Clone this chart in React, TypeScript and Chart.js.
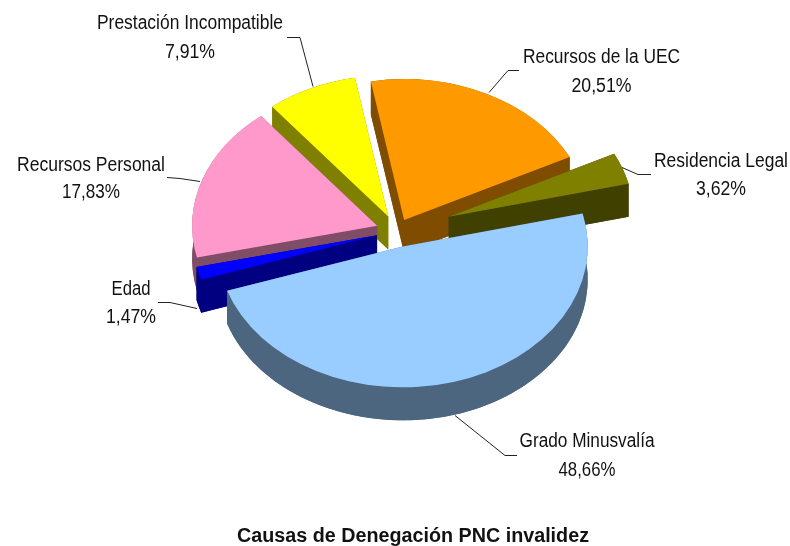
import React, { useEffect, useRef } from "react";
import { Chart, registerables } from "chart.js";

Chart.register(...registerables);

const categories = ["Grado Minusvalía", "Edad", "Recursos Personal", "Prestación Incompatible", "Recursos de la UEC", "Residencia Legal"];
const values = [48.66, 1.47, 17.83, 7.91, 20.51, 3.62];
const topColors = ["#99CCFF", "#0000FF", "#FF99CC", "#FFFF00", "#FF9900", "#808000"];
const sideColors = ["#4D6680", "#000080", "#804D66", "#808000", "#804D00", "#404000"];
const explode = [21, 21, 21, 21, 16, 55];
const paintOrder = [4, 3, 5, 2, 1, 0];
const chartTitle = "Causas de Denegación PNC invalidez";

const CX = 397, CY = 231, TILT = 0.762, DEPTH = 33, RADIUS = 185;

// label centre x, baselines, text widths, leader polyline
const labelLayout = [
  { x: 587, y: 447, w: 135, py: 476, pw: 57, leader: [[455, 415], [505, 455], [517, 455]] },
  { x: 131, y: 295, w: 39, py: 323, pw: 50, leader: [[197, 308], [170, 302], [158, 302]] },
  { x: 91, y: 171, w: 148, py: 198, pw: 58, leader: [[200, 181], [180, 178], [167, 177]] },
  { x: 190, y: 29, w: 186, py: 58, pw: 50, leader: [[313, 86], [300, 37], [287, 37]] },
  { x: 601.5, y: 63, w: 157, py: 92, pw: 60, leader: [[489, 92], [508, 70], [519, 70]] },
  { x: 721, y: 167, w: 134, py: 195, pw: 50, leader: [[622, 167], [638, 174], [651, 174]] },
];

const pie3d = {
  id: "pie3d",
  beforeDatasetsDraw(chart: any) {
    const ctx = chart.ctx;
    const arcs = chart.getDatasetMeta(0).data;
    const ax = arcs[0].x, ay = arcs[0].y;
    ctx.save();
    ctx.translate(CX, CY);
    ctx.scale(1, TILT);
    ctx.translate(-ax, -ay);
    for (const i of paintOrder) {
      const arc = arcs[i];
      const mid = (arc.startAngle + arc.endAngle) / 2;
      const depth = DEPTH / TILT;
      const R = arc.outerRadius;
      ctx.save();
      ctx.translate(Math.cos(mid) * explode[i], Math.sin(mid) * explode[i]);
      ctx.fillStyle = sideColors[i];
      for (const a of [arc.startAngle, arc.endAngle]) {
        const rx = arc.x + Math.cos(a) * R;
        const ry = arc.y + Math.sin(a) * R;
        ctx.beginPath();
        ctx.moveTo(arc.x, arc.y);
        ctx.lineTo(rx, ry);
        ctx.lineTo(rx, ry + depth);
        ctx.lineTo(arc.x, arc.y + depth);
        ctx.closePath();
        ctx.fill();
      }
      ctx.beginPath();
      ctx.arc(arc.x, arc.y, R, arc.startAngle, arc.endAngle);
      ctx.arc(arc.x, arc.y + depth, R, arc.endAngle, arc.startAngle, true);
      ctx.closePath();
      ctx.fill();
      ctx.beginPath();
      ctx.moveTo(arc.x, arc.y + depth);
      ctx.arc(arc.x, arc.y + depth, R, arc.startAngle, arc.endAngle);
      ctx.closePath();
      ctx.fill();
      arc.draw(ctx, chart.chartArea);
      ctx.restore();
    }
    ctx.restore();

    ctx.save();
    ctx.strokeStyle = "#222";
    ctx.lineWidth = 1;
    ctx.fillStyle = "#111";
    ctx.textAlign = "center";
    ctx.textBaseline = "alphabetic";
    ctx.font = '20px "Liberation Sans"';
    categories.forEach((cat, i) => {
      const l = labelLayout[i];
      ctx.beginPath();
      l.leader.forEach(([x, y], j) => (j ? ctx.lineTo(x, y + 0.5) : ctx.moveTo(x, y + 0.5)));
      ctx.stroke();
      ctx.fillText(cat, l.x, l.y, l.w);
      ctx.fillText(values[i].toFixed(2).replace(".", ",") + "%", l.x, l.py, l.pw);
    });
    ctx.font = 'bold 20px "Liberation Sans"';
    ctx.fillText(chartTitle, 413, 542, 352);
    ctx.restore();
    return false;
  },
};

export default function App() {
  const ref = useRef<HTMLCanvasElement>(null);
  useEffect(() => {
    const chart = new Chart(ref.current as HTMLCanvasElement, {
      type: "pie",
      data: {
        labels: categories,
        datasets: [{
          data: values,
          backgroundColor: topColors,
          borderWidth: 0,
          clip: false,
        }],
      },
      options: {
        animation: false,
        responsive: false,
        rotation: 76.5,
        radius: RADIUS,
        layout: { padding: 0 },
        plugins: { legend: { display: false }, tooltip: { enabled: false }, title: { display: false } },
      },
      plugins: [pie3d],
    } as any);
    return () => chart.destroy();
  }, []);
  return <canvas ref={ref} width={790} height={546} style={{ position: "fixed", left: 0, top: 0, display: "block" }} />;
}
